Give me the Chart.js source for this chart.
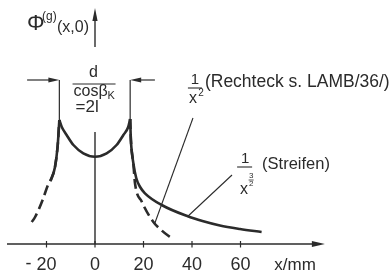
<!DOCTYPE html>
<html>
<head>
<meta charset="utf-8">
<script src="https://cdn.jsdelivr.net/npm/chart.js@4.4.0/dist/chart.umd.min.js"></script>
<style>
  html, body { margin: 0; padding: 0; background: #fff; }
  #wrap { width: 391px; height: 272px; position: relative; }
</style>
</head>
<body>
<div id="wrap"><canvas id="phiChart"></canvas></div>
<script>
// values: x in mm, y = relative field (arbitrary units)
const solidLeftX = [-18.3, -16.5, -15.4, -14.7];
const solidLeftY = [6.3, 7.7, 9.8, 12.4];
const solidMidX = [-14.7, -13.7, -11.7, -8.9, -4.8, 0, 4.8, 8.9, 11.7, 13.7, 14.5];
const solidMidY = [12.4, 11.7, 10.9, 9.9, 9.07, 8.73, 9.07, 9.9, 10.9, 11.7, 12.5];
const solidRightX = [14.5, 14.8, 15.8, 17.0, 18.6, 20.6, 27.5, 38.5, 44.3, 51.5, 59.8, 68.7];
const solidRightY = [12.5, 10.4, 8.1, 6.6, 5.7, 5.07, 3.9, 2.75, 2.3, 1.85, 1.5, 1.2];
const dashLeftX = [-26.1, -24.7, -21.6, -19.4, -18.1, -16.5, -15.4, -14.7];
const dashLeftY = [2.2, 2.7, 4.4, 5.9, 6.5, 7.7, 9.8, 12.4];
const dashRightX = [14.5, 14.8, 15.8, 16.5, 19.3, 24.0, 27.5, 31.6];
const dashRightY = [12.5, 10.4, 8.1, 6.07, 4.23, 2.23, 1.35, 0.57];

const xTicks = [-20, 0, 20, 40, 60];
const xTickLabels = ['- 20', '0', '20', '40', '60'];

const ink = '#2b2b2b';
const fontName = '"Liberation Sans", Arial, sans-serif';

function toPoints(xs, ys) {
  return xs.map((x, i) => ({ x: x, y: ys[i] }));
}

function curve(xs, ys, dashed) {
  return {
    data: toPoints(xs, ys),
    showLine: true,
    borderColor: ink,
    borderWidth: 2.6,
    borderDash: dashed ? [10, 5] : [],
    cubicInterpolationMode: 'monotone',
    pointRadius: 0,
    fill: false
  };
}

function text(ctx, str, x, y, size, align) {
  ctx.font = size + 'px ' + fontName;
  ctx.textAlign = align || 'left';
  ctx.textBaseline = 'middle';
  ctx.fillText(str, x, y);
}

function line(ctx, x1, y1, x2, y2, w) {
  ctx.lineWidth = w;
  ctx.beginPath();
  ctx.moveTo(x1, y1);
  ctx.lineTo(x2, y2);
  ctx.stroke();
}

function arrowHead(ctx, x, y, angle, len, half) {
  ctx.save();
  ctx.translate(x, y);
  ctx.rotate(angle);
  ctx.beginPath();
  ctx.moveTo(0, 0);
  ctx.lineTo(-len, -half);
  ctx.lineTo(-len, half);
  ctx.closePath();
  ctx.fill();
  ctx.restore();
}

// axes, dimension marks and labels
const drawing = {
  id: 'drawing',
  afterDatasetsDraw(chart) {
    const ctx = chart.ctx;
    const sx = chart.scales.x, sy = chart.scales.y;
    const px = v => sx.getPixelForValue(v);
    const py = v => sy.getPixelForValue(v);
    ctx.save();
    ctx.strokeStyle = ink;
    ctx.fillStyle = ink;
    ctx.setLineDash([]);

    // x axis with arrow
    const y0 = py(0);
    line(ctx, px(-36.3), y0, px(93), y0, 1.4);
    arrowHead(ctx, px(94.8), y0, 0, 13, 3);
    xTicks.forEach((t, i) => {
      const x = px(t);
      line(ctx, x, y0 - 3, x, y0 + 3.5, 1.2);
      const parts = xTickLabels[i].split(' ');
      const num = parts[parts.length - 1];
      text(ctx, num, x, 265, 18, 'center');
      if (parts.length > 1) {
        ctx.font = '18px ' + fontName;
        const w = ctx.measureText(num).width;
        text(ctx, parts[0], x - w / 2 - 5, 264, 18, 'right');
      }
    });
    text(ctx, 'x/mm', px(82.5), 265, 17, 'center');

    // y axis, broken where the dimension text sits
    const x0 = px(0);
    line(ctx, x0, y0, x0, py(11.2), 1.4);
    line(ctx, x0, py(19.7), x0, py(22.6), 1.4);
    arrowHead(ctx, x0, py(23.6), -Math.PI / 2, 13, 2.6);
    text(ctx, 'Φ', x0 - 68, 24, 22, 'left');
    text(ctx, '(g)', x0 - 53, 17, 12, 'left');
    text(ctx, '(x,0)', x0 - 38, 28, 16, 'left');

    // dimension d / cos(beta_K) = 2l
    const dl = px(-14.7), dr = px(14.5), dy = py(16.4);
    line(ctx, dl, py(12.4), dl, dy, 1.2);
    line(ctx, dr, py(12.5), dr, dy, 1.2);
    line(ctx, px(-28), dy, dl - 6, dy, 1.2);
    arrowHead(ctx, dl, dy, 0, 11, 2.6);
    line(ctx, dr + 6, dy, px(24.7), dy, 1.2);
    arrowHead(ctx, dr, dy, Math.PI, 11, 2.6);
    const fc = px(-0.6);
    text(ctx, 'd', fc, 73, 16, 'center');
    line(ctx, fc - 21, 84, fc + 22, 84, 1.1);
    text(ctx, 'cosβ', fc - 20, 92, 16, 'left');
    text(ctx, 'K', fc + 14, 96, 11, 'left');
    text(ctx, '=2l', fc - 18, 107, 17, 'left');

    // label 1/x^2 (Rechteck)
    let ax = px(41.2), ay = py(15.6);
    text(ctx, '1', ax, ay - 8, 15, 'center');
    line(ctx, ax - 7, ay, ax + 7, ay, 1.1);
    text(ctx, 'x', ax - 2, ay + 11, 16, 'center');
    text(ctx, '2', ax + 6, ay + 5, 10, 'center');
    text(ctx, '(Rechteck s. LAMB/36/)', ax + 10, ay - 6, 17.5, 'left');
    line(ctx, px(40.4), py(12.6), px(24.7), py(2.1), 1.1);

    // label 1/x^(3/2) (Streifen)
    ax = px(61.9); ay = py(7.7);
    text(ctx, '1', ax, ay - 8, 15, 'center');
    line(ctx, ax - 8, ay, ax + 7, ay, 1.1);
    text(ctx, 'x', ax - 1, ay + 23, 16, 'center');
    text(ctx, '3', ax + 6, ay + 9, 8, 'center');
    line(ctx, ax + 3.5, ay + 13, ax + 8.5, ay + 13, 0.8);
    text(ctx, '2', ax + 6, ay + 17, 8, 'center');
    text(ctx, '(Streifen)', ax + 17, ay - 3, 16.5, 'left');
    line(ctx, px(56.5), py(6.9), px(38.4), py(2.8), 1.1);

    ctx.restore();
  }
};

new Chart(document.getElementById('phiChart'), {
  type: 'scatter',
  data: {
    datasets: [
      curve(solidLeftX, solidLeftY, false),
      curve(solidMidX, solidMidY, false),
      curve(solidRightX, solidRightY, false),
      curve(dashLeftX, dashLeftY, true),
      curve(dashRightX, dashRightY, true)
    ]
  },
  options: {
    responsive: true,
    maintainAspectRatio: false,
    animation: false,
    layout: { padding: 0 },
    plugins: { legend: { display: false }, tooltip: { enabled: false } },
    scales: {
      x: { type: 'linear', min: -39.175, max: 122.06, display: false },
      y: { type: 'linear', min: -2.8, max: 24.4, display: false }
    }
  },
  plugins: [drawing]
});
</script>
</body>
</html>
